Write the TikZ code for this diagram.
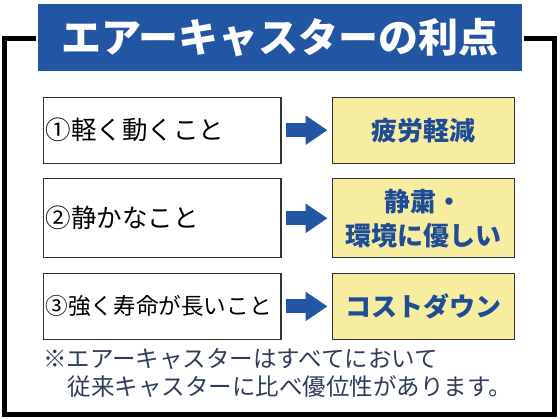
\documentclass[tikz,border=0pt]{standalone}
\usepackage{fontspec}
\setmainfont{Noto Sans CJK JP}
\newfontfamily\heavyfont{Noto Sans CJK JP Black}
\usepackage{tikz}
\usetikzlibrary{arrows.meta, positioning}
\definecolor{titleblue}{RGB}{35, 86, 162}
\definecolor{gainblue}{RGB}{31, 76, 150}
\definecolor{gainyellow}{RGB}{246, 237, 160}
\definecolor{notegray}{RGB}{48, 60, 92}

\begin{document}
\begin{tikzpicture}[
    x=1pt, y=-1pt,
    node distance=14.5pt and 50pt,
    feature/.style={rectangle, draw=black!80, line width=1.1pt, fill=white, text width=233pt, inner xsep=2.3pt, align=left, font=\fontsize{25.5}{30}\selectfont},
    gain/.style={rectangle, draw=black!80, line width=1.1pt, fill=gainyellow, minimum width=182pt, align=center, text=gainblue, font=\fontsize{26}{34}\selectfont\heavyfont},
    arrow/.style={-{Triangle[length=22pt, width=28pt]}, line width=14pt, titleblue, shorten <=4pt, shorten >=4pt}
]
\useasboundingbox (0,0) rectangle (560,420);
\fill[white] (0,0) rectangle (560,420);
\draw[line width=5pt] (4.8,38.5) rectangle (554.7,414.7);
\node[rectangle, fill=titleblue, draw=white, line width=2pt, minimum width=485.4pt, minimum height=68.7pt, text=white, font=\fontsize{40}{44}\selectfont\heavyfont] (title) at (280,37.3) {エアーキャスターの利点};

\node[feature, minimum height=66pt] (feat1) at (162.2,130.2) {①軽く動くこと};
\node[feature, minimum height=79pt, below=of feat1] (feat2) {②静かなこと};
\node[feature, minimum height=66pt, below=of feat2, font=\fontsize{22.6}{30}\selectfont] (feat3) {③強く寿命が長いこと};

\node[gain, minimum height=66pt, right=of feat1] (gain1) {疲労軽減};
\node[gain, minimum height=79pt, right=of feat2] (gain2) {静粛・\\環境に優しい};
\node[gain, minimum height=66pt, right=of feat3] (gain3) {コストダウン};

\draw[arrow] (feat1) -- (gain1);
\draw[arrow] (feat2) -- (gain2);
\draw[arrow] (feat3) -- (gain3);

\node[anchor=north west, inner sep=0pt, align=left, text=notegray, font=\fontsize{23.5}{28}\selectfont] (note) at (43,348) {※エアーキャスターはすべてにおいて\\\hspace*{1.05em}従来キャスターに比べ優位性があります。};
\end{tikzpicture}
\end{document}
